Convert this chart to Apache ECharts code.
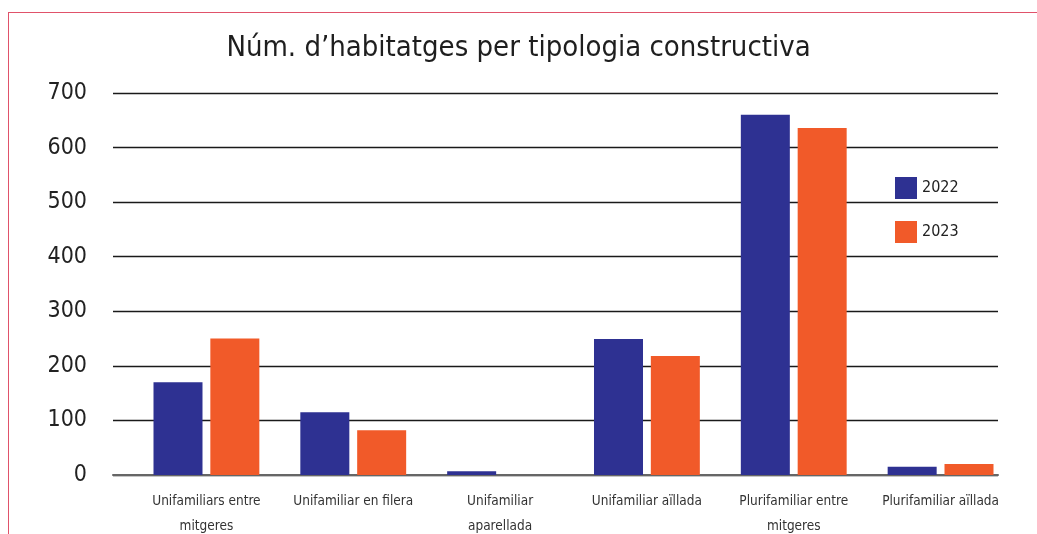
<!DOCTYPE html>
<html>
<head>
<meta charset="utf-8">
<script src="https://cdn.jsdelivr.net/npm/echarts@6/dist/echarts.min.js"></script>
<style>
  html, body { margin: 0; padding: 0; background: #fff; }
  #frame { position: absolute; left: 8px; top: 12px; width: 1029px; height: 522px;
           border-left: 1.5px solid #e0526a; border-top: 1.5px solid #e0526a; box-sizing: border-box; }
  #chart { position: absolute; left: 0; top: 0; width: 1037px; height: 534px; }
</style>
</head>
<body>
<div id="frame"></div>
<div id="chart"></div>
<script>
// dades
const categories = [
  "Unifamiliars entre\nmitgeres",
  "Unifamiliar en filera",
  "Unifamiliar\naparellada",
  "Unifamiliar aïllada",
  "Plurifamiliar entre\nmitgeres",
  "Plurifamiliar aïllada"
];
const values2022 = [170, 115, 7, 249, 660, 15];
const values2023 = [250, 82, 0, 218, 636, 20];
const yTicks = [0, 100, 200, 300, 400, 500, 600, 700];

const fontFamily = '"Liberation Sans Narrow", "DejaVu Sans Condensed", sans-serif';

const chart = echarts.init(document.getElementById('chart'), null, { renderer: 'canvas' });

chart.setOption({
  backgroundColor: 'transparent',
  animation: false,
  textStyle: { fontFamily: fontFamily },
  title: {
    text: "Núm. d’habitatges per tipologia constructiva",
    left: 'center',
    top: 29,
    textStyle: { fontFamily: fontFamily, fontSize: 29, fontWeight: 'normal', color: '#1e1e1e' }
  },
  legend: {
    orient: 'vertical',
    left: 890,
    top: 172,
    itemWidth: 22,
    itemHeight: 22,
    itemGap: 22,
    icon: 'rect',
    textStyle: { fontFamily: fontFamily, fontSize: 16, color: '#222' },
    data: ['2022', '2023']
  },
  // grid 0: línies de la graella i eix Y; grid 1: barres i etiquetes
  grid: [
    { left: 113, right: 39, top: 93, bottom: 59, outerBoundsMode: 'none' },
    { left: 133, right: 23, top: 93, bottom: 59, outerBoundsMode: 'none' }
  ],
  xAxis: [
    {
      type: 'category',
      gridIndex: 0,
      data: categories,
      axisTick: { show: false },
      axisLabel: { show: false },
      axisLine: { lineStyle: { color: '#666', width: 2 } }
    },
    {
      type: 'category',
      gridIndex: 1,
      data: categories,
      axisTick: { show: false },
      axisLine: { show: false },
      axisLabel: { fontFamily: fontFamily, fontSize: 13.5, color: '#333', margin: 14, lineHeight: 25, interval: 0 }
    }
  ],
  yAxis: [
    {
      type: 'value',
      gridIndex: 0,
      min: yTicks[0],
      max: yTicks[yTicks.length - 1],
      interval: 100,
      axisLine: { show: false },
      axisTick: { show: false },
      splitLine: { lineStyle: { color: '#1a1a1a', width: 1.3 } },
      axisLabel: { fontFamily: fontFamily, fontSize: 23, color: '#222', margin: 26 }
    },
    {
      type: 'value',
      gridIndex: 1,
      min: yTicks[0],
      max: yTicks[yTicks.length - 1],
      interval: 100,
      show: false
    }
  ],
  series: [
    {
      name: '2022',
      type: 'bar',
      xAxisIndex: 1,
      yAxisIndex: 1,
      data: values2022,
      barWidth: 49,
      barGap: '16%',
      itemStyle: { color: '#2e3192' }
    },
    {
      name: '2023',
      type: 'bar',
      xAxisIndex: 1,
      yAxisIndex: 1,
      data: values2023,
      barWidth: 49,
      itemStyle: { color: '#f15a29' }
    }
  ]
});
</script>
</body>
</html>
